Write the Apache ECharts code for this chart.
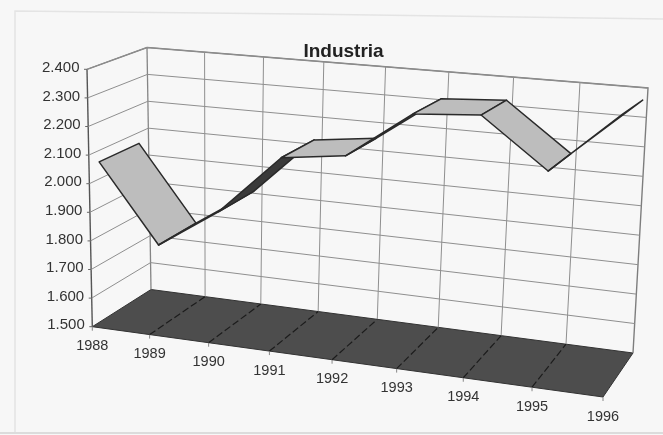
<!DOCTYPE html>
<html>
<head>
<meta charset="utf-8">
<style>html,body{margin:0;padding:0;background:#f7f7f7}#c{width:663px;height:435px;filter:blur(0.45px)}</style>
<script src="https://cdn.jsdelivr.net/npm/echarts@6/dist/echarts.min.js"></script>
</head>
<body>
<div id="c"></div>
<script>
// ---- data ----
const years = ['1988','1989','1990','1991','1992','1993','1994','1995','1996'];
const industria = [2060, 1790, 1928, 2134, 2160, 2318, 2332, 2170, 2370];
const yTicks = [1500,1600,1700,1800,1900,2000,2100,2200,2300,2400];
const yTickLabels = ['1.500','1.600','1.700','1.800','1.900','2.000','2.100','2.200','2.300','2.400'];
const yMin = 1500, yMax = 2400;
const chartTitle = 'Industria';

// ---- 3D view of the plot box: screen position of its eight corners ----
const box = {
  flb:[92.3,326.7], flt:[87,69.3], blb:[151,289.5], blt:[147,47.5],
  frb:[603,397],    frt:[618,108], brb:[633,353],   brt:[648,88]
};
const ribbonFront = 0.17, ribbonBack = 0.84;
const font = '"Liberation Sans", Arial, sans-serif';

function mix(a,b,t){return [a[0]+(b[0]-a[0])*t, a[1]+(b[1]-a[1])*t];}
function warp(s,v){const k = 1.13-0.03*v; return s/(s+k*(1-s));}
// s: 0..1 along the categories, v: 0..1 up the value axis, w: 0 front .. 1 back
function project(s,v,w){
  const t = warp(s,v);
  const fb = mix(box.flb,box.frb,t), ft = mix(box.flt,box.frt,t);
  const bb = mix(box.blb,box.brb,t), bt = mix(box.blt,box.brt,t);
  return mix(mix(fb,ft,v), mix(bb,bt,v), w);
}
// read the library's own scales: hidden cartesian -> normalised box coordinates
function norm(params,api,cat,val){
  const p = api.coord([cat,val]), r = params.coordSys;
  return [(p[0]-r.x)/r.width, (r.y+r.height-p[1])/r.height];
}
const baseSeries = {type:'custom', coordinateSystem:'cartesian2d', clip:false, silent:true};
const gridStyle = {stroke:'#8f8f8f', lineWidth:1, fill:null};

const option = {
  animation:false,
  backgroundColor:'#f7f7f7',
  title:{text:chartTitle,left:338.5,top:37,textAlign:'center',
    textStyle:{fontFamily:font,fontSize:19,fontWeight:'bold',color:'#222'}},
  grid:{left:100,right:100,top:100,bottom:100},
  xAxis:{type:'category',data:years,boundaryGap:false,show:false},
  yAxis:{type:'value',min:yMin,max:yMax,interval:100,show:false},
  graphic:[{type:'polyline',silent:true,z:-1,
    shape:{points:[[15,433],[15,11],[300,14],[663,19]]},
    style:{stroke:'#e4e4e4',lineWidth:1.5,fill:null}},
    {type:'line',silent:true,z:-1,shape:{x1:0,y1:433,x2:663,y2:433},
    style:{stroke:'#dcdcdc',lineWidth:2}}],
  series:[
    // floor and outer edges of the walls
    Object.assign({},baseSeries,{name:'box',z:1,data:[[0,yMin]],renderItem(params,api){
      const P = (s,v,w)=>project(s,v,w);
      return {type:'group',children:[
        {type:'polygon',shape:{points:[P(0,0,0),P(1,0,0),P(1,0,1),P(0,0,1)]},
          style:{fill:'#4d4d4d',stroke:'#333',lineWidth:1}},
        {type:'polyline',shape:{points:[P(0,1,0),P(0,1,1),P(1,1,1),P(1,0,1)]},
          style:{stroke:'#7d7d7d',lineWidth:1.4,fill:null}},
        {type:'line',shape:{x1:P(0,1,1)[0],y1:P(0,1,1)[1],x2:P(0,0,1)[0],y2:P(0,0,1)[1]},
          style:{stroke:'#858585',lineWidth:1.3}},
        {type:'line',shape:{x1:P(0,1,0)[0],y1:P(0,1,0)[1],x2:P(0,0,0)[0],y2:P(0,0,0)[1]},
          style:{stroke:'#555',lineWidth:1.4}}
      ]};
    }}),
    // value ticks: gridlines on side and back wall, tick, label
    Object.assign({},baseSeries,{name:'yTicks',z:2,data:yTicks.map((t,i)=>[0,t,i]),renderItem(params,api){
      const v = norm(params,api,0,api.value(1))[1];
      const a = project(0,v,0), b = project(0,v,1), c = project(1,v,1);
      const kids = [
        {type:'text',style:{text:yTickLabels[api.value(2)],x:a[0]-7.5,y:a[1]-1.5,align:'right',verticalAlign:'middle',
          fontFamily:font,fontSize:15,fill:'#333'}},
        {type:'line',shape:{x1:a[0]-3,y1:a[1],x2:a[0],y2:a[1]},style:{stroke:'#666',lineWidth:1}}
      ];
      if(v>0) kids.push({type:'polyline',shape:{points:[a,b,c]},style:gridStyle});
      return {type:'group',children:kids};
    }}),
    // category ticks: line up the back wall, dashed across the floor, tick, label
    Object.assign({},baseSeries,{name:'xTicks',z:2,data:years.map((y,i)=>[i,yMin]),renderItem(params,api){
      const i = api.value(0), s = norm(params,api,i,yMin)[0];
      const a = project(s,0,0), b = project(s,0,1), c = project(s,1,1);
      const kids = [
        {type:'text',style:{text:years[i],x:a[0],y:a[1]+19.5,align:'center',verticalAlign:'middle',
          fontFamily:font,fontSize:14.5,fill:'#333'}},
        {type:'line',shape:{x1:a[0],y1:a[1],x2:a[0],y2:a[1]+4},style:{stroke:'#888',lineWidth:1}}
      ];
      if(i>0 && i<years.length-1){
        kids.push({type:'line',shape:{x1:b[0],y1:b[1],x2:c[0],y2:c[1]},style:gridStyle});
        kids.push({type:'line',shape:{x1:a[0],y1:a[1],x2:b[0],y2:b[1]},
          style:{stroke:'#1c1c1c',lineWidth:1.2,lineDash:[7,3]}});
      }
      return {type:'group',children:kids};
    }}),
    // the ribbon, one quad for each pair of neighbouring years
    Object.assign({},baseSeries,{name:'Industria',z:3,
      data:industria.slice(0,-1).map((v,i)=>[i,v,industria[i+1]]),renderItem(params,api){
      const i = api.value(0);
      const n0 = norm(params,api,i,api.value(1)), n1 = norm(params,api,i+1,api.value(2));
      const q = [project(n0[0],n0[1],ribbonFront),project(n1[0],n1[1],ribbonFront),
                 project(n1[0],n1[1],ribbonBack),project(n0[0],n0[1],ribbonBack)];
      let area = 0;
      q.forEach((p,k)=>{const o=q[(k+1)%4]; area += p[0]*o[1]-o[0]*p[1];});
      return {type:'polygon',shape:{points:q},
        style:{fill: area<0 ? '#bdbdbd' : '#3a3a3a', stroke:'#2a2a2a', lineWidth:1.5, lineJoin:'round'}};
    }})
  ]
};
const chart = echarts.init(document.getElementById('c'),null,{renderer:'canvas'});
chart.setOption(option);
</script>
</body>
</html>
